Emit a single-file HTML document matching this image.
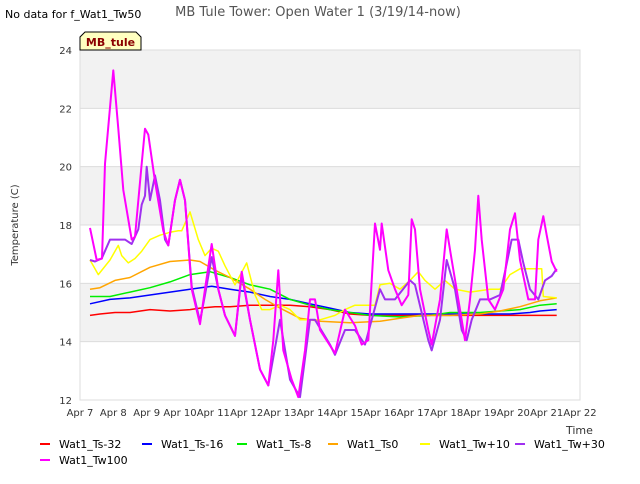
<!DOCTYPE html>
<html><head><meta charset="utf-8"><style>
body{margin:0;background:#fff;font-family:"DejaVu Sans","Liberation Sans",sans-serif;}
svg text{font-family:"DejaVu Sans","Liberation Sans",sans-serif;}
</style></head><body>
<svg id="c" width="640" height="480">
<rect width="640" height="480" fill="#fff"/>
<text x="5" y="18" font-size="11" fill="#000">No data for f_Wat1_Tw50</text>
<text x="318" y="16" font-size="13" fill="#555" text-anchor="middle">MB Tule Tower: Open Water 1 (3/19/14-now)</text>
<g id="plot"></g>
<g>
<path d="M80,50 L80,37 L85,32 L136,32 L141,37 L141,50 Z" fill="#ffffc0" stroke="#000" stroke-width="1"/>
<text x="110.5" y="46" font-size="11" font-weight="bold" fill="#8b0000" text-anchor="middle">MB_tule</text>
</g>
<text x="18" y="225" font-size="10" fill="#333" text-anchor="middle" transform="rotate(-90 18 225)">Temperature (C)</text>
<text x="566" y="434" font-size="11" fill="#333">Time</text>
<g id="legend"></g>
</svg>
<script>
const dayLabels=["Apr 7","Apr 8","Apr 9","Apr 10","Apr 11","Apr 12","Apr 13","Apr 14","Apr 15","Apr 16","Apr 17","Apr 18","Apr 19","Apr 20","Apr 21","Apr 22"];
const yTicks=[12,14,16,18,20,22,24];
const seriesNames=["Wat1_Ts-32","Wat1_Ts-16","Wat1_Ts-8","Wat1_Ts0","Wat1_Tw+10","Wat1_Tw+30","Wat1_Tw100"];
const seriesColors=["#ff0000","#0000ff","#00ee00","#ffa500","#ffff00","#a030f0","#ff00ff"];
const ts32=[[0.3,14.9],[0.6,14.95],[1.05,15.0],[1.5,15.0],[2.1,15.1],[2.7,15.05],[3.3,15.1],[3.6,15.15],[4.05,15.2],[4.5,15.2],[5.1,15.25],[5.7,15.25],[6.3,15.25],[6.9,15.2],[7.5,15.1],[8.1,14.95],[8.7,14.9],[9.3,14.9],[9.9,14.9],[10.8,14.9],[11.7,14.9],[12.6,14.9],[13.2,14.9],[13.8,14.9],[14.3,14.9]];
const ts16=[[0.3,15.3],[0.9,15.45],[1.5,15.5],[2.1,15.6],[2.7,15.7],[3.3,15.8],[3.95,15.9],[4.5,15.8],[5.1,15.7],[5.7,15.55],[6.3,15.45],[6.9,15.3],[7.5,15.15],[8.1,15.0],[8.7,14.95],[9.6,14.95],[10.5,14.95],[11.4,14.95],[12.3,14.95],[12.9,14.95],[13.5,15.0],[13.8,15.05],[14.3,15.1]];
const ts8=[[0.3,15.55],[0.9,15.55],[1.5,15.7],[2.1,15.85],[2.7,16.05],[3.3,16.3],[3.9,16.4],[4.5,16.2],[5.1,15.95],[5.7,15.8],[6.3,15.45],[6.9,15.25],[7.5,15.1],[8.1,15.0],[8.7,14.9],[9.6,14.85],[10.5,14.9],[11.1,15.0],[12.0,15.0],[12.6,15.05],[13.2,15.1],[13.8,15.25],[14.3,15.3]];
const ts0=[[0.3,15.8],[0.6,15.85],[1.05,16.1],[1.5,16.2],[2.1,16.55],[2.7,16.75],[3.3,16.8],[3.6,16.75],[4.05,16.45],[4.5,16.2],[5.1,15.8],[5.55,15.45],[6.0,15.15],[6.6,14.8],[7.2,14.7],[8.1,14.65],[9.0,14.7],[9.6,14.8],[10.2,14.9],[11.1,14.9],[12.0,14.95],[12.6,15.05],[13.2,15.2],[13.8,15.4],[14.3,15.5]];
const tw10=[[0.3,16.8],[0.55,16.3],[0.9,16.8],[1.15,17.3],[1.25,16.95],[1.45,16.7],[1.65,16.85],[1.85,17.1],[2.1,17.5],[2.4,17.65],[2.7,17.75],[2.95,17.8],[3.05,17.8],[3.3,18.45],[3.55,17.5],[3.75,16.95],[3.95,17.2],[4.15,17.1],[4.35,16.6],[4.65,15.95],[5.0,16.7],[5.25,15.6],[5.45,15.1],[5.7,15.1],[6.0,15.25],[6.3,15.1],[6.6,14.75],[6.9,14.75],[7.2,14.75],[7.65,14.9],[7.95,15.1],[8.25,15.25],[8.55,15.25],[8.85,15.25],[9.0,15.95],[9.3,16.0],[9.6,15.8],[9.9,16.1],[10.15,16.4],[10.35,16.1],[10.65,15.8],[10.95,16.1],[11.25,15.8],[11.7,15.7],[12.3,15.8],[12.6,15.8],[12.9,16.3],[13.2,16.5],[13.5,16.5],[13.85,16.5],[13.9,15.55],[14.3,15.5]];
const tw30=[[0.3,16.8],[0.45,16.75],[0.65,16.85],[0.9,17.5],[1.35,17.5],[1.55,17.35],[1.75,17.85],[1.85,18.7],[1.95,19.0],[2.0,20.0],[2.1,18.85],[2.25,19.7],[2.4,18.85],[2.55,17.5],[2.65,17.3],[2.85,18.85],[3.0,19.55],[3.15,18.85],[3.35,15.9],[3.6,14.7],[3.75,15.6],[3.95,16.9],[4.15,15.8],[4.35,14.9],[4.65,14.2],[4.85,16.3],[5.1,14.75],[5.4,13.05],[5.65,12.5],[6.0,14.75],[6.3,12.7],[6.6,12.1],[6.9,14.75],[7.05,14.75],[7.5,13.9],[7.65,13.55],[7.95,14.4],[8.25,14.4],[8.55,13.9],[8.75,14.75],[9.0,15.8],[9.15,15.45],[9.45,15.45],[9.9,16.1],[10.05,15.95],[10.45,14.05],[10.55,13.7],[10.8,14.75],[11.0,16.8],[11.25,15.8],[11.45,14.4],[11.6,14.05],[11.75,14.75],[12.0,15.45],[12.3,15.45],[12.6,15.6],[12.75,16.4],[12.95,17.5],[13.15,17.5],[13.3,16.7],[13.5,15.8],[13.75,15.45],[13.95,16.1],[14.15,16.25],[14.3,16.5]];
const tw100=[[0.3,17.9],[0.5,16.8],[0.66,16.85],[0.75,20.1],[1.0,23.3],[1.15,21.3],[1.3,19.2],[1.55,17.5],[1.65,17.6],[1.85,20.1],[1.95,21.3],[2.05,21.1],[2.25,19.5],[2.5,17.8],[2.65,17.3],[2.85,18.85],[3.0,19.55],[3.15,18.85],[3.35,15.8],[3.6,14.6],[3.75,15.8],[3.95,17.35],[4.15,15.8],[4.35,14.9],[4.65,14.2],[4.85,16.4],[5.1,14.75],[5.4,13.05],[5.65,12.5],[5.8,14.05],[5.95,16.45],[6.1,13.7],[6.35,12.7],[6.55,12.1],[6.75,13.7],[6.9,15.45],[7.05,15.45],[7.2,14.4],[7.65,13.6],[7.95,15.1],[8.25,14.55],[8.45,13.9],[8.65,14.05],[8.85,18.05],[9.0,17.15],[9.05,18.05],[9.25,16.45],[9.45,15.8],[9.65,15.25],[9.85,15.6],[9.95,18.2],[10.05,17.85],[10.2,15.8],[10.45,14.4],[10.55,13.9],[10.8,15.45],[11.0,17.85],[11.15,16.8],[11.4,15.1],[11.55,14.05],[11.7,15.45],[11.85,17.15],[11.95,19.0],[12.05,17.5],[12.25,15.45],[12.45,15.1],[12.7,15.8],[12.9,17.85],[13.05,18.4],[13.2,16.8],[13.45,15.45],[13.65,15.45],[13.75,17.5],[13.9,18.3],[14.0,17.65],[14.15,16.75],[14.3,16.4]];
const allSeries=[ts32,ts16,ts8,ts0,tw10,tw30,tw100];
const NS="http://www.w3.org/2000/svg";
const X0=80,X1=580,Y0=400,Y1=50;
function xs(d){return X0+(X1-X0)*d/15;}
function ys(v){return Y0-(Y0-Y1)*(v-12)/12;}
function mk(t,a,p){const e=document.createElementNS(NS,t);for(const k in a)e.setAttribute(k,a[k]);(p||plot).appendChild(e);return e;}
const plot=document.getElementById('plot');
mk('rect',{x:X0,y:Y1,width:X1-X0,height:Y0-Y1,fill:'#fff'});
for(let i=0;i<yTicks.length-1;i++){
  if(i%2==1){const r=mk('rect',{x:X0,y:ys(yTicks[i+1]),width:X1-X0,height:ys(yTicks[i])-ys(yTicks[i+1]),fill:'#f2f2f2'});
  
  }
}
yTicks.forEach(v=>{
  const l=mk('line',{x1:X0,x2:X1,y1:ys(v),y2:ys(v),stroke:'#dcdcdc','stroke-width':1});
  
  
  const t=mk('text',{x:X0-8,y:ys(v)+4,'font-size':10,fill:'#333','text-anchor':'end'});
  t.textContent=v;
  
  
});
dayLabels.forEach((s,i)=>{
  const t=mk('text',{x:xs(i),y:Y0+16,'font-size':10,fill:'#333','text-anchor':'middle'});
  t.textContent=s;
  
  
});
mk('rect',{x:X0,y:Y1,width:X1-X0,height:Y0-Y1,fill:'none',stroke:'#ddd'});
allSeries.forEach((s,i)=>{
  const p=mk('polyline',{points:s.map(q=>xs(q[0]).toFixed(1)+','+ys(q[1]).toFixed(1)).join(' '),fill:'none',stroke:seriesColors[i],'stroke-width':i>=5?2:1.5,'stroke-linejoin':'round'});
  
  
});
const lg=document.getElementById('legend');
const lpos=[[40,444],[142,444],[237,444],[328,444],[420,444],[515,444],[40,460]];
seriesNames.forEach((n,i)=>{
  const g=mk('g',{},lg);
  
  
  const [x,y]=lpos[i];
  mk('line',{x1:x,x2:x+10,y1:y,y2:y,stroke:seriesColors[i],'stroke-width':2},g);
  const t=mk('text',{x:x+19,y:y+4,'font-size':11,fill:'#000'},g);
  t.textContent=n;
});
</script>
</body></html>
